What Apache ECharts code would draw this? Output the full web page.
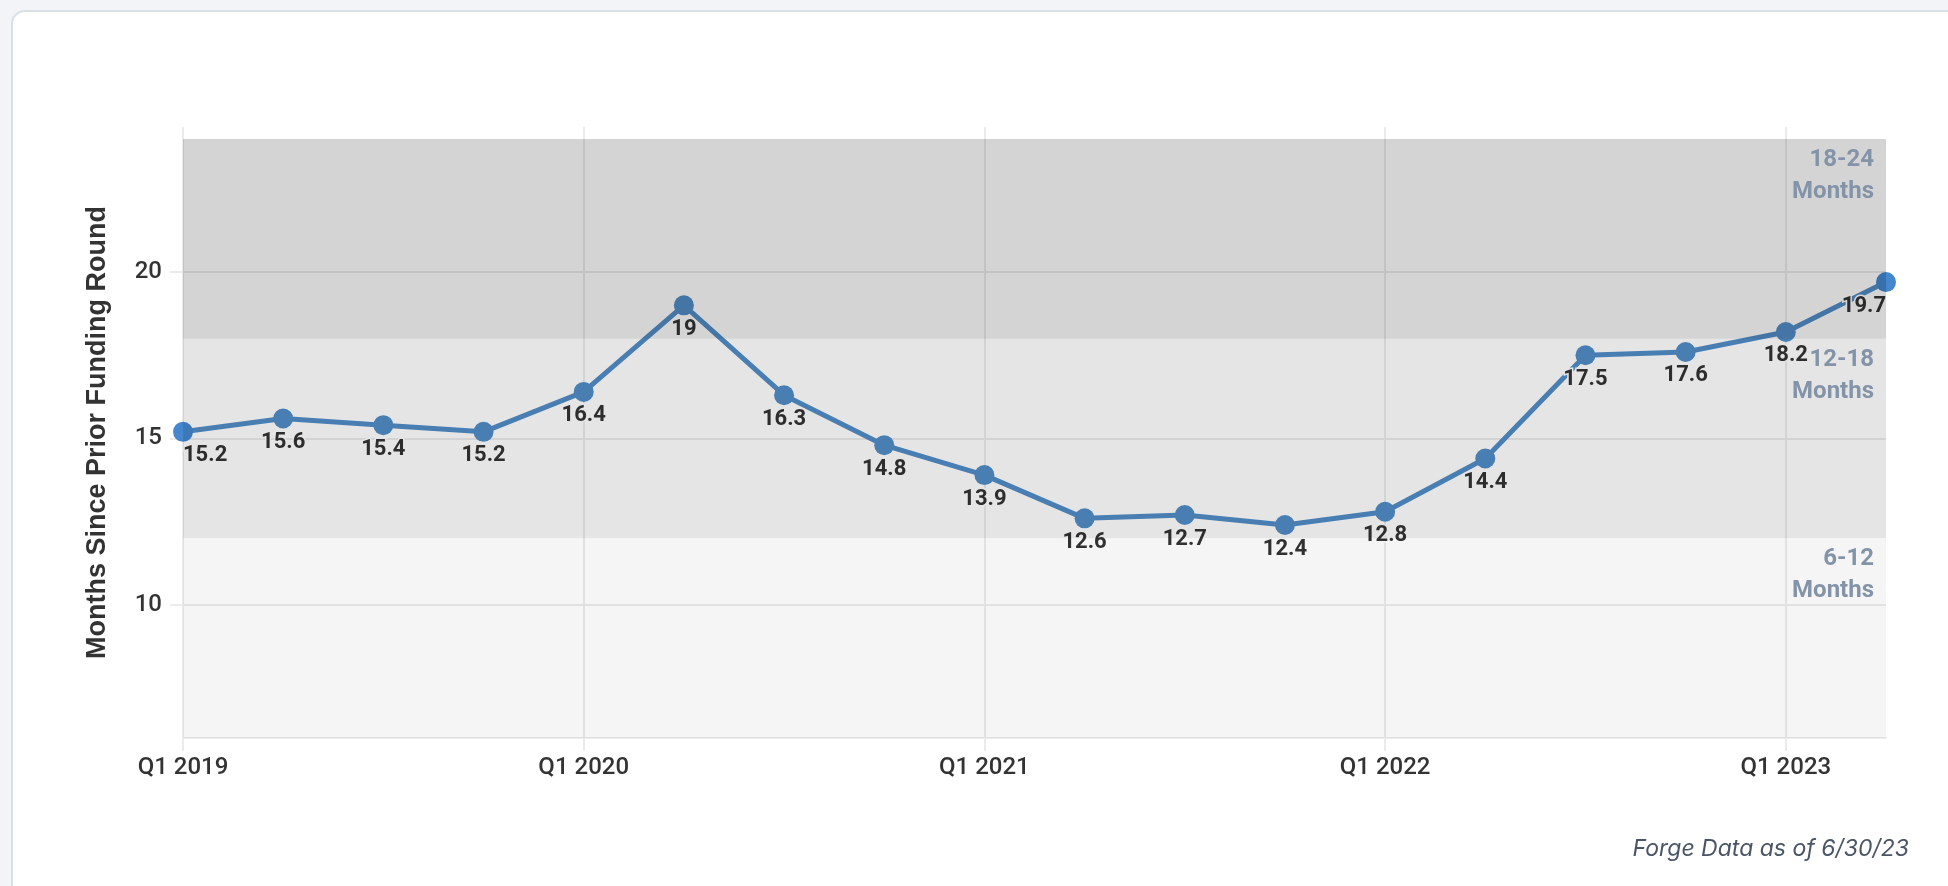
<!DOCTYPE html>
<html>
<head>
<meta charset="utf-8">
<script src="https://cdn.jsdelivr.net/npm/echarts@6/dist/echarts.min.js"></script>
<style>
  html, body { margin: 0; padding: 0; background: #f2f4f7; overflow: hidden; }
  #card {
    position: absolute; left: 11px; top: 10px; width: 2000px; height: 940px;
    background: #fff; border: 2px solid #d8e0e8; border-radius: 14px;
  }
  #chart { position: absolute; left: 0; top: 0; width: 1948px; height: 886px; }
</style>
</head>
<body>
<div id="card"></div>
<div id="chart"></div>
<script>
const categories = [
  'Q1 2019', 'Q2 2019', 'Q3 2019', 'Q4 2019',
  'Q1 2020', 'Q2 2020', 'Q3 2020', 'Q4 2020',
  'Q1 2021', 'Q2 2021', 'Q3 2021', 'Q4 2021',
  'Q1 2022', 'Q2 2022', 'Q3 2022', 'Q4 2022',
  'Q1 2023', 'Q2 2023'
];
const months = [15.2, 15.6, 15.4, 15.2, 16.4, 19, 16.3, 14.8, 13.9, 12.6, 12.7, 12.4, 12.8, 14.4, 17.5, 17.6, 18.2, 19.7];
const yTicks = [10, 15, 20];
const bandRanges = [[18, 24], [12, 18], [6, 12]];
const bandLabels = ['18-24\nMonths', '12-18\nMonths', '6-12\nMonths'];
const bandShades = ['rgba(0,0,0,0.17)', 'rgba(0,0,0,0.10)', 'rgba(0,0,0,0.04)'];

const gridColor = '#ebebeb';
const lineColor = '#528dc7';
const last = months.length - 1;

const chart = echarts.init(document.getElementById('chart'));

const option = {
  animation: false,
  title: {
    text: 'Forge Data as of 6/30/23',
    right: 39,
    top: 838,
    padding: 0,
    textStyle: {
      fontFamily: 'Inter',
      fontStyle: 'italic',
      fontWeight: 400,
      fontSize: 23,
      color: '#4a5566'
    }
  },
  grid: { left: 183, right: 62, top: 127, bottom: 148, containLabel: false, outerBoundsMode: 'none' },
  xAxis: {
    type: 'category',
    data: categories,
    boundaryGap: false,
    axisLine: { show: true, lineStyle: { color: gridColor, width: 2 } },
    axisTick: { show: true, interval: 3, length: 13, lineStyle: { color: gridColor, width: 2 } },
    axisLabel: {
      interval: 3,
      margin: 18,
      color: '#333',
      fontFamily: 'Roboto',
      fontWeight: 500,
      fontSize: 24
    },
    splitLine: { show: true, interval: 3, lineStyle: { color: gridColor, width: 2 } }
  },
  yAxis: {
    type: 'value',
    min: 6,
    max: 24.36,
    name: 'Months Since Prior Funding Round',
    nameLocation: 'middle',
    nameGap: 72,
    nameTextStyle: {
      fontFamily: 'Liberation Sans',
      fontWeight: 'bold',
      fontSize: 27,
      color: '#333'
    },
    axisLine: { show: false },
    axisTick: { show: true, customValues: yTicks, length: 13, lineStyle: { color: gridColor, width: 2 } },
    axisLabel: {
      customValues: yTicks,
      margin: 21,
      color: '#333',
      fontFamily: 'Roboto',
      fontWeight: 500,
      fontSize: 24
    },
    splitLine: { show: true, lineStyle: { color: gridColor, width: 2 } }
  },
  series: [
    {
      type: 'line',
      z: 2,
      data: months.map((v, i) => {
        const item = { value: v };
        if (i === 0) item.label = { align: 'left' };
        if (i === last) item.label = { align: 'right' };
        if (i === 0 || i === last) item.itemStyle = { color: '#4487cf' };
        return item;
      }),
      symbol: 'circle',
      symbolSize: 20,
      showSymbol: true,
      lineStyle: { color: lineColor, width: 5 },
      itemStyle: { color: lineColor },
      label: {
        show: true,
        position: 'bottom',
        distance: 3,
        color: '#333',
        fontFamily: 'Roboto',
        fontWeight: 'bold',
        fontSize: 22,
        textBorderColor: '#fff',
        textBorderWidth: 3
      },
      emphasis: { disabled: true }
    },
    {
      type: 'line',
      data: months,
      silent: true,
      symbol: 'none',
      lineStyle: { opacity: 0 },
      markArea: {
        silent: true,
        z: 10,
        label: {
          show: true,
          position: 'insideTopRight',
          distance: 5,
          offset: [-7, 0],
          color: '#8393a8',
          fontFamily: 'Roboto',
          fontWeight: 'bold',
          fontSize: 24,
          lineHeight: 32
        },
        data: bandRanges.map((r, i) => [
          { yAxis: r[0], name: bandLabels[i], itemStyle: { color: bandShades[i] } },
          { yAxis: r[1] }
        ])
      }
    }
  ]
};

chart.setOption(option);
window.addEventListener('resize', () => chart.resize());
</script>
</body>
</html>
